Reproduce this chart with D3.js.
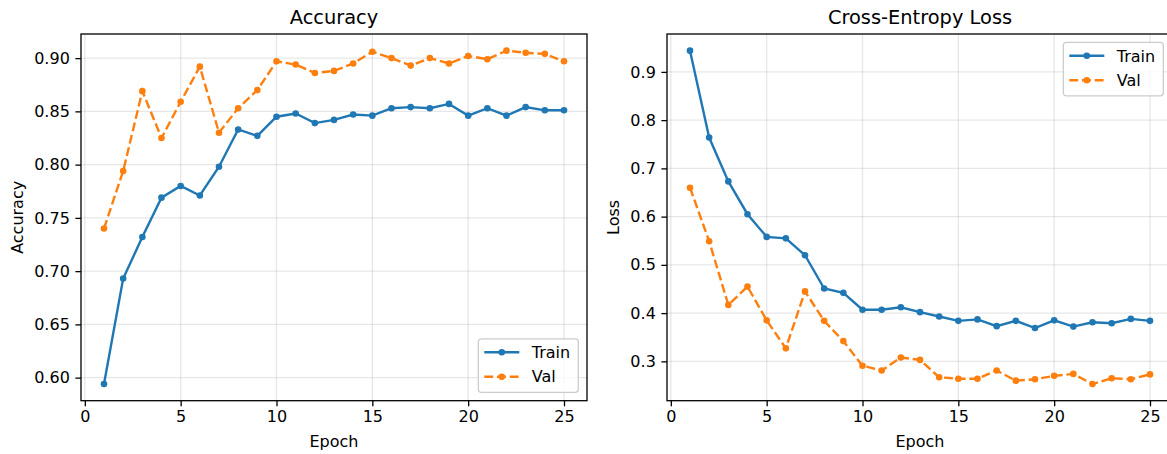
<!DOCTYPE html>
<html>
<head>
<meta charset="utf-8">
<script src="https://cdn.jsdelivr.net/npm/d3@7"></script>
<style>
  body { margin: 0; background: #fff; }
  svg { display: block; font-family: "DejaVu Sans", sans-serif; }
</style>
</head>
<body>
<div class="board"></div>
<script>
// epochs and values
const epochs = d3.range(1, 26);

const trainAcc = [0.594, 0.693, 0.732, 0.769, 0.780, 0.771, 0.798, 0.833, 0.827, 0.845, 0.848, 0.839, 0.842,
                  0.847, 0.846, 0.853, 0.854, 0.853, 0.857, 0.846, 0.853, 0.846, 0.854, 0.851, 0.851];
const valAcc = [0.740, 0.794, 0.869, 0.825, 0.859, 0.892, 0.830, 0.853, 0.870, 0.897, 0.894, 0.886, 0.888,
                0.895, 0.906, 0.900, 0.893, 0.900, 0.895, 0.902, 0.899, 0.907, 0.905, 0.904, 0.897];
const trainLoss = [0.944, 0.764, 0.673, 0.605, 0.558, 0.555, 0.520, 0.451, 0.442, 0.407, 0.407, 0.412, 0.402,
                   0.393, 0.384, 0.387, 0.373, 0.384, 0.369, 0.385, 0.372, 0.381, 0.379, 0.388, 0.384];
const valLoss = [0.660, 0.549, 0.417, 0.455, 0.385, 0.327, 0.445, 0.384, 0.342, 0.291, 0.281, 0.308, 0.303,
                 0.267, 0.264, 0.264, 0.281, 0.260, 0.263, 0.270, 0.274, 0.253, 0.265, 0.263, 0.273];

const xTicks = [0, 5, 10, 15, 20, 25];
const accTicks = [0.60, 0.65, 0.70, 0.75, 0.80, 0.85, 0.90];
const lossTicks = [0.3, 0.4, 0.5, 0.6, 0.7, 0.8, 0.9];
const seriesNames = ['Train', 'Val'];

const W = 1167, H = 454;
const blue = '#1f77b4', orange = '#ff7f0e';

let svg = d3.select('.board').append('svg')
    .attr('width', W)
    .attr('height', H)
    .style('background-color', '#fff');

// matplotlib style 5% margins
let padDomain = function(arrs) {
  let lo = d3.min(arrs, a => d3.min(a)), hi = d3.max(arrs, a => d3.max(a));
  let m = (hi - lo) * 0.05;
  return [lo - m, hi + m];
};

let drawPanel = function(p) {
  let x = d3.scaleLinear().domain([-0.2, 26.2]).range([p.left, p.right]);
  let y = d3.scaleLinear().domain(padDomain([p.train, p.val])).range([p.bottom, p.top]);
  let g = svg.append('g');

  // grid
  g.append('g').selectAll('line').data(xTicks).join('line')
      .attr('x1', d => x(d)).attr('x2', d => x(d))
      .attr('y1', p.top).attr('y2', p.bottom)
      .attr('stroke', '#b0b0b0').attr('stroke-opacity', 0.3).attr('stroke-width', 1.3);
  g.append('g').selectAll('line').data(p.yTicks).join('line')
      .attr('x1', p.left).attr('x2', p.right)
      .attr('y1', d => y(d)).attr('y2', d => y(d))
      .attr('stroke', '#b0b0b0').attr('stroke-opacity', 0.3).attr('stroke-width', 1.3);

  // axes
  let xAxis = g.append('g')
      .attr('transform', `translate(0,${p.bottom})`)
      .call(d3.axisBottom(x).tickValues(xTicks).tickSize(5.6).tickPadding(4.5).tickFormat(d3.format('d')));
  let yAxis = g.append('g')
      .attr('transform', `translate(${p.left},0)`)
      .call(d3.axisLeft(y).tickValues(p.yTicks).tickSize(5.6).tickPadding(5.6).tickFormat(d3.format(p.fmt)));
  [xAxis, yAxis].forEach(a => {
    a.select('.domain').remove();
    a.selectAll('line').attr('stroke', '#000').attr('stroke-width', 1.3);
    a.selectAll('text').attr('fill', '#000').style('font-size', '16px').style('font-family', '"DejaVu Sans"');
  });

  // series
  let line = d3.line().x((d, i) => x(epochs[i])).y(d => y(d));
  let series = [
    { vals: p.train, color: blue, dash: null },
    { vals: p.val, color: orange, dash: '8.9,3.8' }
  ];
  series.forEach(s => {
    g.append('path').datum(s.vals)
        .attr('d', line)
        .attr('fill', 'none')
        .attr('stroke', s.color)
        .attr('stroke-width', 2.4)
        .attr('stroke-dasharray', s.dash);
    g.append('g').selectAll('circle').data(s.vals).join('circle')
        .attr('cx', (d, i) => x(epochs[i]))
        .attr('cy', d => y(d))
        .attr('r', 3.3)
        .attr('fill', s.color);
  });

  // frame
  g.append('rect')
      .attr('x', p.left).attr('y', p.top)
      .attr('width', p.right - p.left).attr('height', p.bottom - p.top)
      .attr('fill', 'none').attr('stroke', '#000').attr('stroke-width', 1.3);

  // titles
  g.append('text')
      .attr('x', (p.left + p.right) / 2).attr('y', 24)
      .attr('text-anchor', 'middle')
      .style('font-size', '19.4px')
      .text(p.title);
  g.append('text')
      .attr('x', (p.left + p.right) / 2).attr('y', 447)
      .attr('text-anchor', 'middle')
      .style('font-size', '16px')
      .text('Epoch');
  g.append('text')
      .attr('transform', `translate(${p.ylabelX},${(p.top + p.bottom) / 2}) rotate(-90)`)
      .attr('text-anchor', 'middle')
      .style('font-size', '16px')
      .text(p.ylabel);

  // legend
  let lg = g.append('g').attr('transform', `translate(${p.legX},${p.legY})`);
  lg.append('rect')
      .attr('width', 100).attr('height', 53.5).attr('rx', 3)
      .attr('fill', '#fff').attr('fill-opacity', 0.8)
      .attr('stroke', '#cccccc').attr('stroke-width', 1.3);
  series.forEach((s, i) => {
    let ry = 13.5 + i * 24.4;
    lg.append('line')
        .attr('x1', 6).attr('x2', 41).attr('y1', ry).attr('y2', ry)
        .attr('stroke', s.color).attr('stroke-width', 2.4)
        .attr('stroke-dasharray', s.dash);
    lg.append('circle').attr('cx', 23.5).attr('cy', ry).attr('r', 3.3).attr('fill', s.color);
    lg.append('text')
        .attr('x', 53.5).attr('y', ry).attr('dy', '0.36em')
        .style('font-size', '16px')
        .text(seriesNames[i]);
  });
};

drawPanel({
  left: 81, right: 587, top: 34, bottom: 400.7,
  train: trainAcc, val: valAcc, yTicks: accTicks, fmt: '.2f',
  title: 'Accuracy', ylabel: 'Accuracy', ylabelX: 23,
  legX: 478.3, legY: 338.8
});

drawPanel({
  left: 667, right: 1173, top: 34, bottom: 400.7,
  train: trainLoss, val: valLoss, yTicks: lossTicks, fmt: '.1f',
  title: 'Cross-Entropy Loss', ylabel: 'Loss', ylabelX: 619,
  legX: 1063.3, legY: 42.3
});
</script>
</body>
</html>
